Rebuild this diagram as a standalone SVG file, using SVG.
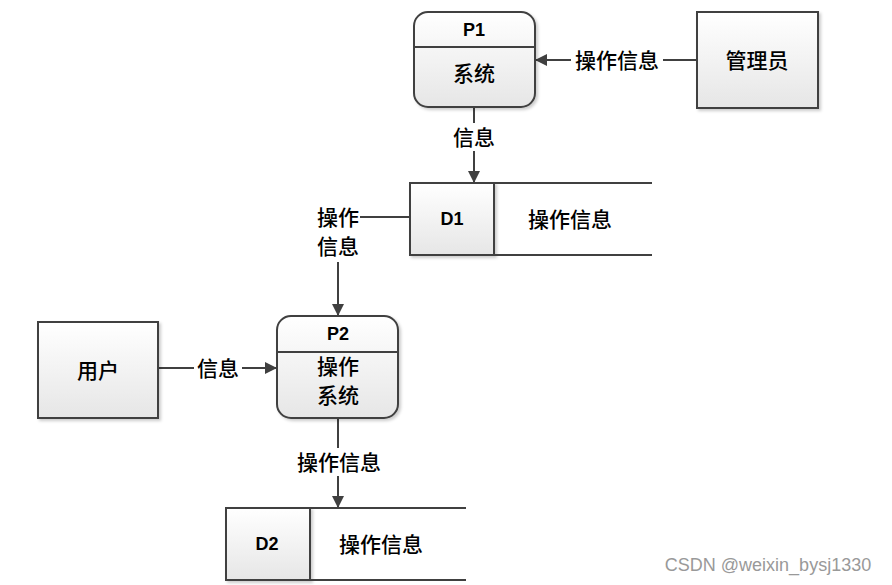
<svg xmlns="http://www.w3.org/2000/svg" width="892" height="585" viewBox="0 0 892 585">
<defs>
<linearGradient id="g" x1="0" y1="0" x2="0" y2="1">
<stop offset="0" stop-color="#ffffff"/>
<stop offset="1" stop-color="#e6e6e6"/>
</linearGradient>
<filter id="sh" x="-10%" y="-10%" width="130%" height="130%">
<feDropShadow dx="2" dy="2" stdDeviation="1.5" flood-color="#000" flood-opacity="0.2"/>
</filter>
<marker id="ah" markerWidth="12" markerHeight="12" refX="11" refY="6" orient="auto" markerUnits="userSpaceOnUse">
<path d="M0,0 L12,6 L0,12 Z" fill="#404040"/>
</marker>
</defs>
<style>
.box{fill:url(#g);stroke:#404040;stroke-width:2;}
.ln{stroke:#404040;stroke-width:2;fill:none;}
.cn{font-family:"Noto Sans CJK SC","Liberation Sans",sans-serif;font-size:21px;font-weight:500;fill:#000;text-anchor:middle;dominant-baseline:central;}
.id{font-family:"Liberation Sans",Arial,sans-serif;font-size:18px;font-weight:bold;fill:#000;text-anchor:middle;dominant-baseline:central;}
.lbl{font-family:"Noto Sans CJK SC","Liberation Sans",sans-serif;font-size:21px;font-weight:500;fill:#000;text-anchor:middle;dominant-baseline:central;}
</style>
<rect width="892" height="585" fill="#fff"/>
<g id="connectors">
<line class="ln" x1="697" y1="60" x2="536" y2="60" marker-end="url(#ah)"/>
<line class="ln" x1="474" y1="107" x2="474" y2="182" marker-end="url(#ah)"/>
<polyline class="ln" points="410,217 360,217"/>
<line class="ln" x1="338" y1="262" x2="338" y2="315" marker-end="url(#ah)"/>
<line class="ln" x1="158" y1="368" x2="276" y2="368" marker-end="url(#ah)"/>
<line class="ln" x1="338" y1="418" x2="338" y2="507" marker-end="url(#ah)"/>
<rect x="571" y="46" width="92" height="28" fill="#fff"/>
<text class="lbl" x="617" y="59">操作信息</text>
<rect x="451" y="123" width="46" height="28" fill="#fff"/>
<text class="lbl" x="474" y="136">信息</text>
<text class="lbl" x="338" y="216">操作</text>
<text class="lbl" x="338" y="245">信息</text>
<rect x="194" y="354" width="48" height="28" fill="#fff"/>
<text class="lbl" x="218" y="367">信息</text>
<rect x="293" y="448" width="92" height="28" fill="#fff"/>
<text class="lbl" x="339" y="461">操作信息</text>
</g>
<g id="P1">
<rect class="box" x="414" y="12" width="121" height="95" rx="14" filter="url(#sh)"/>
<line class="ln" x1="414" y1="47" x2="535" y2="47"/>
<text class="id" x="474" y="30">P1</text>
<text class="cn" x="474" y="72">系统</text>
</g>
<g id="admin">
<rect class="box" x="697" y="12" width="121" height="96" filter="url(#sh)"/>
<text class="cn" x="757" y="59">管理员</text>
</g>
<g id="D1">
<rect class="box" x="410" y="183" width="84" height="72" filter="url(#sh)"/>
<line class="ln" x1="494" y1="183" x2="652" y2="183"/>
<line class="ln" x1="494" y1="255" x2="652" y2="255"/>
<text class="id" x="452" y="219">D1</text>
<text class="cn" x="570" y="218">操作信息</text>
</g>
<g id="user">
<rect class="box" x="38" y="322" width="120" height="96" filter="url(#sh)"/>
<text class="cn" x="98" y="369">用户</text>
</g>
<g id="P2">
<rect class="box" x="277" y="316" width="121" height="102" rx="14" filter="url(#sh)"/>
<line class="ln" x1="277" y1="352" x2="398" y2="352"/>
<text class="id" x="338" y="334">P2</text>
<text class="cn" x="338" y="365">操作</text>
<text class="cn" x="338" y="394">系统</text>
</g>
<g id="D2">
<rect class="box" x="226" y="508" width="84" height="72" filter="url(#sh)"/>
<line class="ln" x1="310" y1="508" x2="466" y2="508"/>
<line class="ln" x1="310" y1="580" x2="466" y2="580"/>
<text class="id" x="267" y="544">D2</text>
<text class="cn" x="381" y="543">操作信息</text>
</g>
<text x="768" y="565" font-family="'Liberation Sans',Arial,sans-serif" font-size="18" fill="#999" text-anchor="middle" dominant-baseline="central">CSDN @weixin_bysj1330</text>
</svg>
